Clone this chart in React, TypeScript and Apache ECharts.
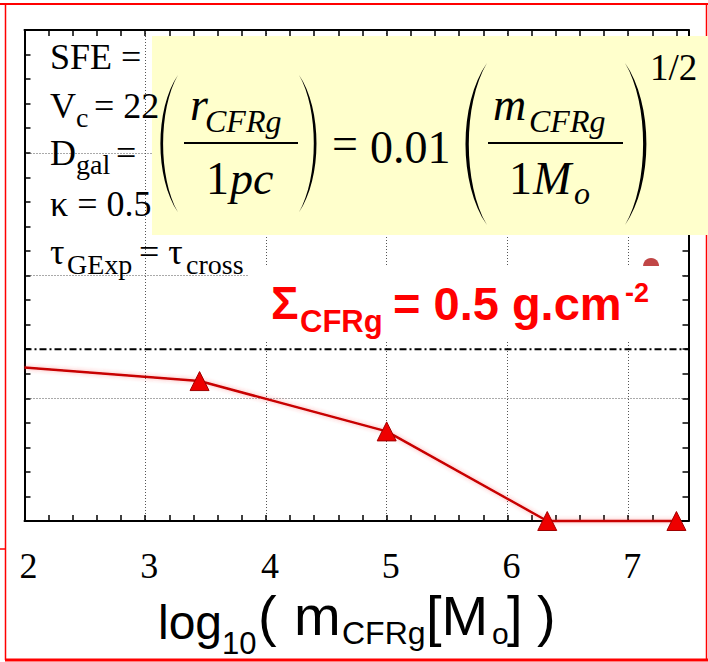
import React, { useEffect, useRef } from 'react';
import * as echarts from 'echarts';

// ---- data ----
const massLog = [2, 3.45, 5, 6.33, 7.4];
const radiusVal = [1.25, 1.14, 0.73, 0, 0];
const markerShown = [false, true, true, true, true];
const refLevel = 1.4;
const refRange = [2, 7.5];
const otherX = [7.19];
const otherY = [2.077];
const xRange = [2, 7.5];
const yRange = [0, 4];

const SERIF = '"Liberation Serif", "Times New Roman", Times, serif';
const SANS = '"Liberation Sans", Arial, Helvetica, sans-serif';

const LPAREN = 'M20,0 C-6,35 -6,105 20,140 C-2,105 -2,35 20,0 Z';
const RPAREN = 'M0,0 C26,35 26,105 0,140 C22,105 22,35 0,0 Z';
echarts.graphic.registerShape('lparen', echarts.graphic.extendPath(LPAREN, {}));
echarts.graphic.registerShape('rparen', echarts.graphic.extendPath(RPAREN, {}));

type TxOpt = { style?: string; weight?: string; fill?: string; align?: string };
function tx(text: string, x: number, y: number, size: number, family: string, o: TxOpt = {}) {
  return {
    type: 'text',
    x,
    y,
    z: 110,
    style: {
      text,
      font: `${o.style || 'normal'} ${o.weight || 'normal'} ${size}px ${family}`,
      fill: o.fill || '#000',
      align: o.align || 'left',
      verticalAlign: 'middle',
    },
  };
}
function hline(x1: number, x2: number, y: number, w: number, color: string, z = 90) {
  return { type: 'line', z, shape: { x1, y1: y, x2, y2: y }, style: { stroke: color, lineWidth: w } };
}
function vline(x: number, y1: number, y2: number, w: number, color: string, z = 90) {
  return { type: 'line', z, shape: { x1: x, y1, x2: x, y2 }, style: { stroke: color, lineWidth: w } };
}

export default function App() {
  const ref = useRef<HTMLDivElement>(null);
  useEffect(() => {
    if (!ref.current) return;
    const chart = echarts.init(ref.current, undefined, { renderer: 'svg' });
    const tickStyle = { color: '#000', width: 1.5 };
    const gridLine = { show: true, lineStyle: { color: '#555', type: [1, 2], width: 1 } };
    const RED = '#ff0000';
    const ML = 46; // main equation font size
    const SUB = 32;
    const LEG = 36;
    const LSUB = 28;
    const XT = 56; // x title large part
    const elements: any[] = [
      // red frame
      hline(0, 708, 4, 2, RED),
      vline(5.5, 4, 660, 1.5, RED),
      hline(5, 708, 660, 3, RED),
      vline(706.5, 4, 660, 1.5, RED),
      hline(0, 5, 549, 1.5, RED),
      // yellow equation box
      { type: 'rect', z: 100, shape: { x: 152, y: 36, width: 560, height: 199 }, style: { fill: '#ffffcc' } },
      // white label box
      { type: 'rect', z: 100, shape: { x: 248, y: 266, width: 434, height: 74 }, style: { fill: '#ffffff' } },
      // legend text
      tx('SFE =', 50, 57, LEG, SERIF),
      tx('V', 50, 106, LEG, SERIF),
      tx('c', 76, 117, LSUB, SERIF),
      tx('= 22', 94, 106, LEG, SERIF),
      tx('D', 50, 153, LEG, SERIF),
      tx('gal', 76, 164, LSUB, SERIF),
      tx('=', 116, 153, LEG, SERIF),
      tx('κ = 0.5', 50, 204, LEG, SERIF),
      tx('τ', 50, 252, LEG, SERIF),
      tx('GExp', 67, 264, LSUB, SERIF),
      tx('= τ', 139, 252, LEG, SERIF),
      tx('cross', 186, 264, LSUB, SERIF),
      // equation
      { type: 'lparen', z: 110, x: 160, y: 75, scaleX: 0.9, scaleY: 0.98, style: { fill: '#000' } },
      tx('r', 190, 104, ML, SERIF, { style: 'italic' }),
      tx('CFRg', 205, 121, SUB, SERIF, { style: 'italic' }),
      { type: 'rect', z: 110, shape: { x: 184, y: 142, width: 114, height: 2 }, style: { fill: '#000' } },
      tx('1', 206, 178, ML, SERIF),
      tx('pc', 230, 178, ML, SERIF, { style: 'italic' }),
      { type: 'rparen', z: 110, x: 299, y: 75, scaleX: 0.9, scaleY: 0.98, style: { fill: '#000' } },
      tx('=', 332, 143, ML, SERIF),
      tx('0.01', 370, 147, ML, SERIF),
      { type: 'lparen', z: 110, x: 465, y: 63, scaleX: 1.1, scaleY: 1.157, style: { fill: '#000' } },
      tx('m', 493, 104, ML, SERIF, { style: 'italic' }),
      tx('CFRg', 529, 121, SUB, SERIF, { style: 'italic' }),
      { type: 'rect', z: 110, shape: { x: 488, y: 142, width: 135, height: 2 }, style: { fill: '#000' } },
      tx('1', 509, 178, ML, SERIF),
      tx('M', 533, 178, ML, SERIF, { style: 'italic' }),
      tx('o', 574, 193, SUB, SERIF, { style: 'italic' }),
      { type: 'rparen', z: 110, x: 625, y: 63, scaleX: 1.1, scaleY: 1.157, style: { fill: '#000' } },
      tx('1/2', 650, 67, 37, SERIF),
      // red label
      tx('Σ', 271, 303, 46, SANS, { weight: 'bold', fill: RED }),
      tx('CFRg', 300, 321, 31, SANS, { weight: 'bold', fill: RED }),
      tx('= 0.5 g.cm', 393, 303, 47, SANS, { weight: 'bold', fill: RED }),
      tx('-2', 625, 293, 27, SANS, { weight: 'bold', fill: RED }),
      // x title
      tx('log', 158, 622, 48, SANS),
      tx('10', 222, 643, 31, SANS),
      tx('(', 258, 615, XT, SANS),
      tx('m', 294, 615, XT, SANS),
      tx('CFRg', 342, 633, 32, SANS),
      tx('[M', 426, 615, XT, SANS),
      tx('o', 492, 633, 30, SANS),
      tx(']', 507, 615, XT, SANS),
      tx(')', 537, 615, XT, SANS),
    ];

    const option: any = {
      animation: false,
      backgroundColor: '#ffffff',
      grid: { left: 24.5, right: 19.5, top: 30, bottom: 141, containLabel: false },
      xAxis: [
        {
          type: 'value', position: 'bottom', min: xRange[0], max: xRange[1], interval: 1,
          axisLine: { show: true, onZero: false, lineStyle: { color: '#000', width: 2 } },
          axisTick: { show: false },
          axisLabel: { show: true, fontFamily: SERIF, fontSize: 36, color: '#000', margin: 27, showMaxLabel: false, padding: [0, 0, 0, 8] },
          splitLine: gridLine,
        },
        {
          type: 'value', position: 'bottom', min: xRange[0], max: xRange[1], interval: 0.2,
          axisLine: { show: false, onZero: false },
          axisTick: { show: true, inside: true, length: 6, lineStyle: tickStyle },
          axisLabel: { show: false }, splitLine: { show: false },
        },
        {
          type: 'value', position: 'top', min: xRange[0], max: xRange[1], interval: 0.2,
          axisLine: { show: true, onZero: false, lineStyle: { color: '#000', width: 2 } },
          axisTick: { show: true, inside: true, length: 6, lineStyle: tickStyle },
          axisLabel: { show: false }, splitLine: { show: false },
        },
      ],
      yAxis: [
        {
          type: 'value', position: 'left', min: yRange[0], max: yRange[1], interval: 1,
          axisLine: { show: true, onZero: false, lineStyle: { color: '#000', width: 2 } },
          axisTick: { show: false }, axisLabel: { show: false },
          splitLine: gridLine,
        },
        {
          type: 'value', position: 'left', min: yRange[0], max: yRange[1], interval: 0.2,
          axisLine: { show: false, onZero: false },
          axisTick: { show: true, inside: true, length: 6, lineStyle: tickStyle },
          axisLabel: { show: false }, splitLine: { show: false },
        },
        {
          type: 'value', position: 'right', min: yRange[0], max: yRange[1], interval: 0.2,
          axisLine: { show: true, onZero: false, lineStyle: { color: '#000', width: 2 } },
          axisTick: { show: true, inside: true, length: 6, lineStyle: tickStyle },
          axisLabel: { show: false }, splitLine: { show: false },
        },
      ],
      series: [
        {
          type: 'line', xAxisIndex: 0, yAxisIndex: 0, z: 2,
          data: refRange.map((x) => [x, refLevel]),
          symbol: 'none',
          lineStyle: { color: '#000', width: 2, type: [7, 3, 2, 3] },
        },
        {
          type: 'line', xAxisIndex: 0, yAxisIndex: 0, z: 3, clip: false,
          data: massLog.map((x, i) => ({ value: [x, radiusVal[i]], symbol: markerShown[i] ? 'triangle' : 'none' })),
          symbolSize: 19,
          lineStyle: { color: '#c80000', width: 2.5, shadowBlur: 4, shadowColor: 'rgba(255,60,60,0.45)' },
          itemStyle: { color: '#ee0000', borderColor: '#a00000', borderWidth: 1 },
        },
        {
          type: 'scatter', xAxisIndex: 0, yAxisIndex: 0, z: 3,
          data: otherX.map((x, i) => [x, otherY[i]]),
          symbol: 'circle', symbolSize: 16,
          itemStyle: { color: '#b01818' },
        },
      ],
      graphic: { elements },
    };
    chart.setOption(option);
    return () => chart.dispose();
  }, []);
  return <div ref={ref} style={{ position: 'fixed', left: 0, top: 0, width: 708, height: 662, background: '#fff' }} />;
}
